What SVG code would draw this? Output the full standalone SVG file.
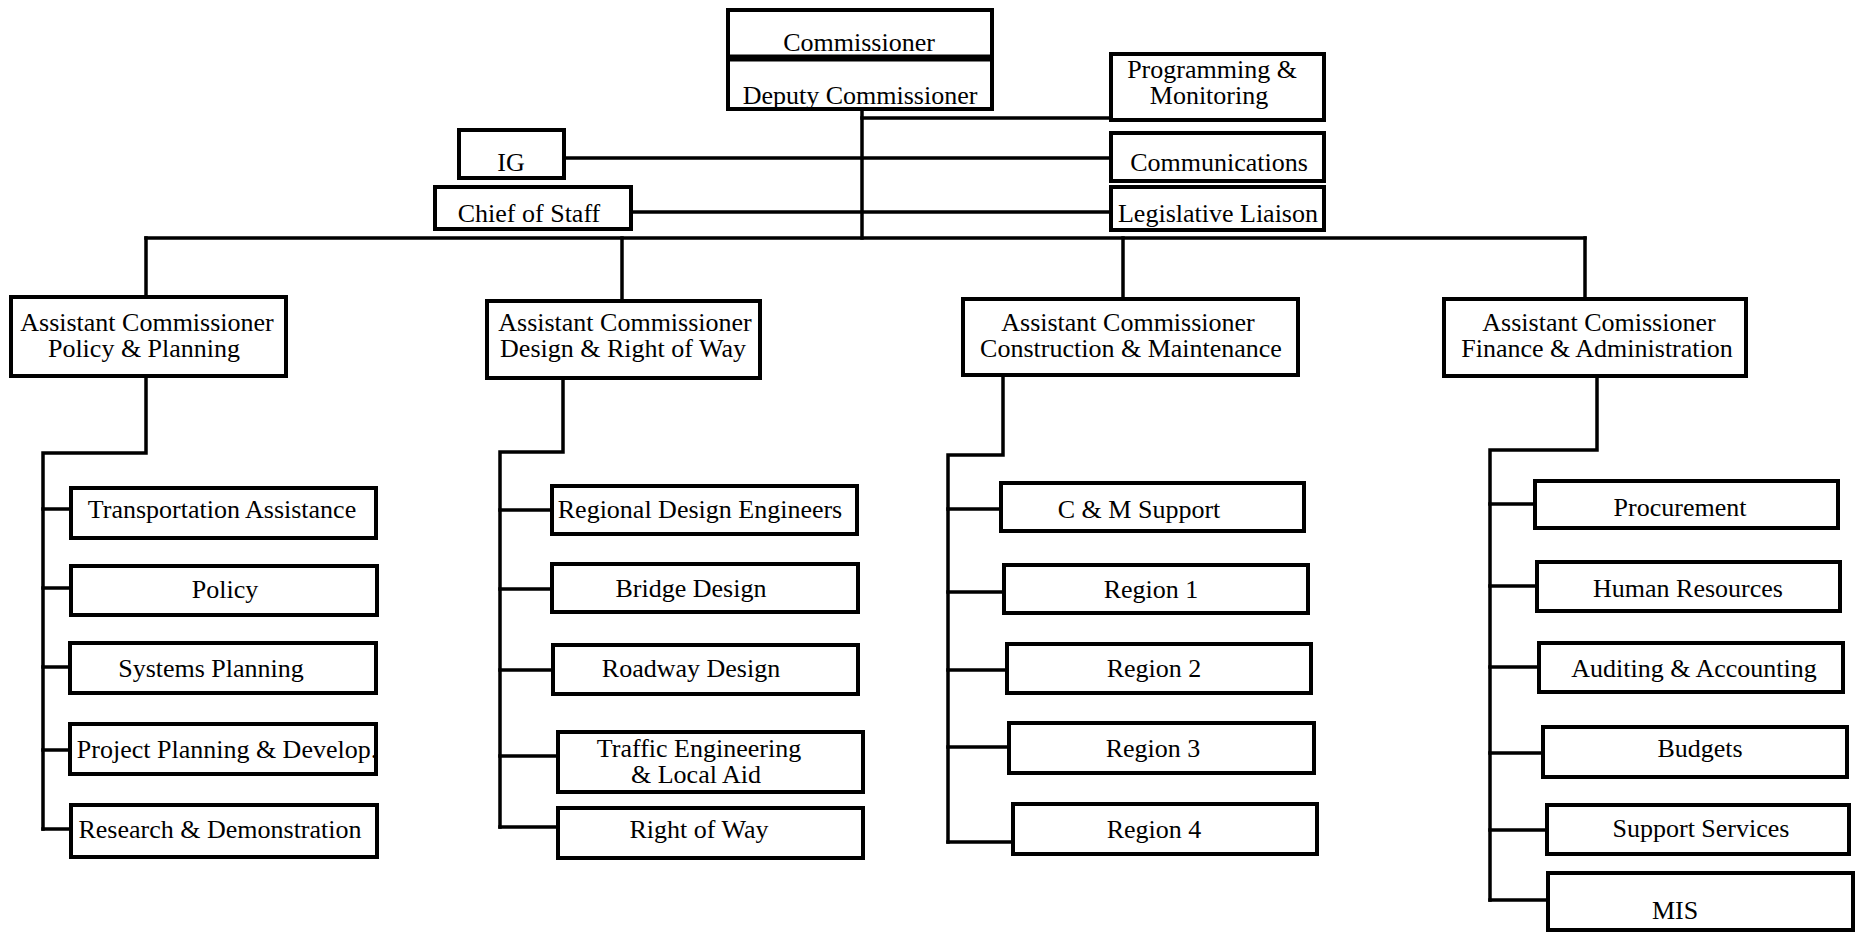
<svg xmlns="http://www.w3.org/2000/svg" width="1865" height="938" viewBox="0 0 1865 938">
<style>
.box{fill:#fff;stroke:#000;stroke-width:4}
.conn{fill:none;stroke:#000;stroke-width:3.5;stroke-linejoin:miter;stroke-linecap:square}
text{font-family:"Liberation Serif","Times New Roman",serif;font-size:26px;fill:#000;text-anchor:middle}
</style>
<rect width="1865" height="938" fill="#fff"/>
<g id="connectors">
<path class="conn" d="M862,109 V238"/>
<path class="conn" d="M862,118 H1111"/>
<path class="conn" d="M564,158 H1111"/>
<path class="conn" d="M631,212 H1111"/>
<path class="conn" d="M146,238 H1585"/>
<path class="conn" d="M146,238 V297"/>
<path class="conn" d="M622,238 V301"/>
<path class="conn" d="M1123,238 V299"/>
<path class="conn" d="M1585,238 V299"/>
<path class="conn" d="M146,376 V453 H43 V829"/>
<path class="conn" d="M43,509 H71 M43,588 H71 M43,667 H70 M43,750 H70 M43,829 H71"/>
<path class="conn" d="M563,378 V452 H500 V827"/>
<path class="conn" d="M500,510 H552 M500,589 H552 M500,670 H553 M500,756 H558 M500,827 H558"/>
<path class="conn" d="M1003,375 V455 H948 V842"/>
<path class="conn" d="M948,509 H1001 M948,592 H1004 M948,670 H1007 M948,747 H1009 M948,842 H1013"/>
<path class="conn" d="M1597,376 V450 H1490 V900"/>
<path class="conn" d="M1490,504 H1535 M1490,586 H1537 M1490,667 H1539 M1490,753 H1543 M1490,830 H1547 M1490,900 H1548"/>
</g>
<g id="commissioner">
<rect class="box" x="728" y="10" width="264" height="99"/>
<line x1="728" y1="58" x2="992" y2="58" stroke="#000" stroke-width="7"/>
<text x="859" y="51">Commissioner</text>
<text x="860" y="104">Deputy Commissioner</text>
</g>
<g id="programming">
<rect class="box" x="1111" y="54" width="213" height="66"/>
<text x="1212" y="78">Programming &amp;</text>
<text x="1209" y="104">Monitoring</text>
</g>
<g id="ig">
<rect class="box" x="459" y="130" width="105" height="48"/>
<text x="511" y="171">IG</text>
</g>
<g id="communications">
<rect class="box" x="1111" y="133" width="213" height="48"/>
<text x="1219" y="171">Communications</text>
</g>
<g id="chief-of-staff">
<rect class="box" x="435" y="187" width="196" height="42"/>
<text x="529" y="222">Chief of Staff</text>
</g>
<g id="legislative-liaison">
<rect class="box" x="1111" y="187" width="213" height="43"/>
<text x="1218" y="222">Legislative Liaison</text>
</g>
<g id="ac-policy">
<rect class="box" x="11" y="297" width="275" height="79"/>
<text x="147" y="331">Assistant Commissioner</text>
<text x="144" y="357">Policy &amp; Planning</text>
</g>
<g id="ac-design">
<rect class="box" x="487" y="301" width="273" height="77"/>
<text x="625" y="331">Assistant Commissioner</text>
<text x="623" y="357">Design &amp; Right of Way</text>
</g>
<g id="ac-construction">
<rect class="box" x="963" y="299" width="335" height="76"/>
<text x="1128" y="331">Assistant Commissioner</text>
<text x="1131" y="357">Construction &amp; Maintenance</text>
</g>
<g id="ac-finance">
<rect class="box" x="1444" y="299" width="302" height="77"/>
<text x="1599" y="331">Assistant Comissioner</text>
<text x="1597" y="357">Finance &amp; Administration</text>
</g>
<g id="transportation-assistance">
<rect class="box" x="71" y="488" width="305" height="50"/>
<text x="222" y="518">Transportation Assistance</text>
</g>
<g id="policy">
<rect class="box" x="71" y="566" width="306" height="49"/>
<text x="225" y="598">Policy</text>
</g>
<g id="systems-planning">
<rect class="box" x="70" y="643" width="306" height="50"/>
<text x="211" y="677">Systems Planning</text>
</g>
<g id="project-planning">
<rect class="box" x="70" y="724" width="306" height="50"/>
<text x="227" y="758">Project Planning &amp; Develop.</text>
</g>
<g id="research">
<rect class="box" x="71" y="805" width="306" height="52"/>
<text x="220" y="838">Research &amp; Demonstration</text>
</g>
<g id="regional-design">
<rect class="box" x="552" y="486" width="305" height="48"/>
<text x="700" y="518">Regional Design Engineers</text>
</g>
<g id="bridge-design">
<rect class="box" x="552" y="564" width="306" height="48"/>
<text x="691" y="597">Bridge Design</text>
</g>
<g id="roadway-design">
<rect class="box" x="553" y="645" width="305" height="49"/>
<text x="691" y="677">Roadway Design</text>
</g>
<g id="traffic-engineering">
<rect class="box" x="558" y="732" width="305" height="60"/>
<text x="699" y="757">Traffic Engineering</text>
<text x="696" y="783">&amp; Local Aid</text>
</g>
<g id="right-of-way">
<rect class="box" x="558" y="808" width="305" height="50"/>
<text x="699" y="838">Right of Way</text>
</g>
<g id="cm-support">
<rect class="box" x="1001" y="483" width="303" height="48"/>
<text x="1139" y="518">C &amp; M Support</text>
</g>
<g id="region-1">
<rect class="box" x="1004" y="565" width="304" height="48"/>
<text x="1151" y="598">Region 1</text>
</g>
<g id="region-2">
<rect class="box" x="1007" y="644" width="304" height="49"/>
<text x="1154" y="677">Region 2</text>
</g>
<g id="region-3">
<rect class="box" x="1009" y="723" width="305" height="50"/>
<text x="1153" y="757">Region 3</text>
</g>
<g id="region-4">
<rect class="box" x="1013" y="804" width="304" height="50"/>
<text x="1154" y="838">Region 4</text>
</g>
<g id="procurement">
<rect class="box" x="1535" y="481" width="303" height="47"/>
<text x="1680" y="516">Procurement</text>
</g>
<g id="human-resources">
<rect class="box" x="1537" y="562" width="303" height="49"/>
<text x="1688" y="597">Human Resources</text>
</g>
<g id="auditing">
<rect class="box" x="1539" y="643" width="304" height="49"/>
<text x="1694" y="677">Auditing &amp; Accounting</text>
</g>
<g id="budgets">
<rect class="box" x="1543" y="727" width="304" height="50"/>
<text x="1700" y="757">Budgets</text>
</g>
<g id="support-services">
<rect class="box" x="1547" y="805" width="302" height="49"/>
<text x="1701" y="837">Support Services</text>
</g>
<g id="mis">
<rect class="box" x="1548" y="873" width="305" height="57"/>
<text x="1675" y="919">MIS</text>
</g>
</svg>
